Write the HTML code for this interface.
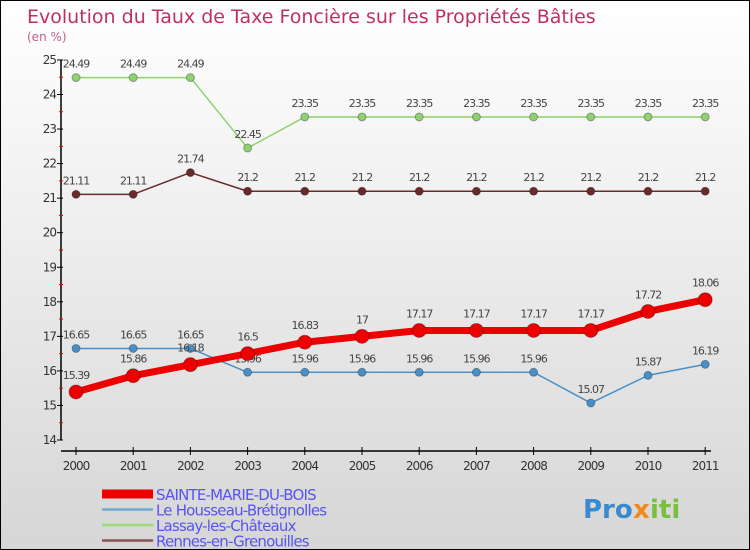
<!DOCTYPE html>
<html><head><meta charset="utf-8"><style>
body{margin:0}
#c{width:748px;height:548px;border:1px solid #000;background:linear-gradient(#fff,#f3f3f3 30%,#d6d6d6);position:relative;overflow:hidden;font-family:"DejaVu Sans","Liberation Sans",sans-serif}
</style></head><body>
<div id="c">
<svg width="748" height="548" id="s" style="position:absolute;left:0;top:0"></svg>
</div>
<script>
const years=[2000,2001,2002,2003,2004,2005,2006,2007,2008,2009,2010,2011];
const sainte=[15.39,15.86,16.18,16.5,16.83,17,17.17,17.17,17.17,17.17,17.72,18.06];
const housseau=[16.65,16.65,16.65,15.96,15.96,15.96,15.96,15.96,15.96,15.07,15.87,16.19];
const lassay=[24.49,24.49,24.49,22.45,23.35,23.35,23.35,23.35,23.35,23.35,23.35,23.35];
const rennes=[21.11,21.11,21.74,21.2,21.2,21.2,21.2,21.2,21.2,21.2,21.2,21.2];
const yTicks=[14,15,16,17,18,19,20,21,22,23,24,25];
const NS="http://www.w3.org/2000/svg",s=document.getElementById('s');
const X=i=>75+i*57.2, Y=v=>439-(v-14)*34.55;
function el(t,a,txt){const e=document.createElementNS(NS,t);for(const k in a)e.setAttribute(k,a[k]);if(txt!==undefined)e.textContent=txt;s.appendChild(e);return e;}
let e;
e=el('text',{x:26,y:22,fill:'#c0305e','font-size':19},'Evolution du Taux de Taxe Foncière sur les Propriétés Bâties');

e=el('text',{x:26,y:40,fill:'#c0608e','font-size':12},'(en %)');

e=el('line',{x1:60,y1:Y(25),x2:60,y2:Y(14),stroke:'#000','stroke-width':1.5});

yTicks.forEach(v=>{
 el('line',{x1:56,y1:Y(v),x2:62,y2:Y(v),stroke:'#000'});
 if(v<25)el('line',{x1:58,y1:Y(v+0.5),x2:62,y2:Y(v+0.5),stroke:'#e00'});
 e=el('text',{x:55,y:Y(v)+4,'text-anchor':'end','font-size':12,fill:'#333','letter-spacing':'-1'},v);
 
});
e=el('line',{x1:60,y1:450,x2:710,y2:450,stroke:'#000','stroke-width':1.5});

years.forEach((y,i)=>{
 el('line',{x1:X(i),y1:446,x2:X(i),y2:454,stroke:'#000'});
 e=el('text',{x:X(i),y:469,'text-anchor':'middle','font-size':12,fill:'#333','letter-spacing':'-1'},y);
 
});
function series(vals,col,lw,r,name,dy){
 e=el('polyline',{points:vals.map((v,i)=>X(i)+','+Y(v)).join(' '),fill:'none',stroke:col,'stroke-width':lw,'stroke-linejoin':'round'});
 
 vals.forEach((v,i)=>{
  e=el('circle',{cx:X(i),cy:Y(v),r:r,fill:col,stroke:'rgba(0,0,0,0.3)'});
  
  e=el('text',{x:X(i),y:Y(v)+dy,'text-anchor':'middle','font-size':11,fill:'#444','letter-spacing':'-1'},v);
  
 });
}
series(lassay,'#8fd16f',1.5,4,'lassay',-10);
series(rennes,'#6b2a2a',1.5,4,'rennes',-10);
series(housseau,'#4a90c8',1.5,4,'housseau',-10);
series(sainte,'#ee0000',7,7,'sainte-marie',-13);
const leg=[['SAINTE-MARIE-DU-BOIS','#ee0000',9],['Le Housseau-Brétignolles','#6fa8d0',2.5],['Lassay-les-Châteaux','#9ada7a',2.5],['Rennes-en-Grenouilles','#8a5555',2.5]];
leg.forEach((l,i)=>{
 const y=493+i*15.5;
 el('line',{x1:101,y1:y,x2:152,y2:y,stroke:l[1],'stroke-width':l[2]});
 e=el('text',{x:155,y:y+6,'font-size':15,fill:'#5555ee','letter-spacing':'-0.8'},l[0]);
 
});
e=el('text',{x:582,y:517,'font-size':26,'font-weight':'bold',fill:'#3a8ad0'},'Pro');

el('text',{x:632,y:517,'font-size':26,'font-weight':'bold',fill:'#f08a20'},'x');
el('text',{x:649,y:517,'font-size':26,'font-weight':'bold',fill:'#7ac040'},'iti');
</script>
</body></html>
